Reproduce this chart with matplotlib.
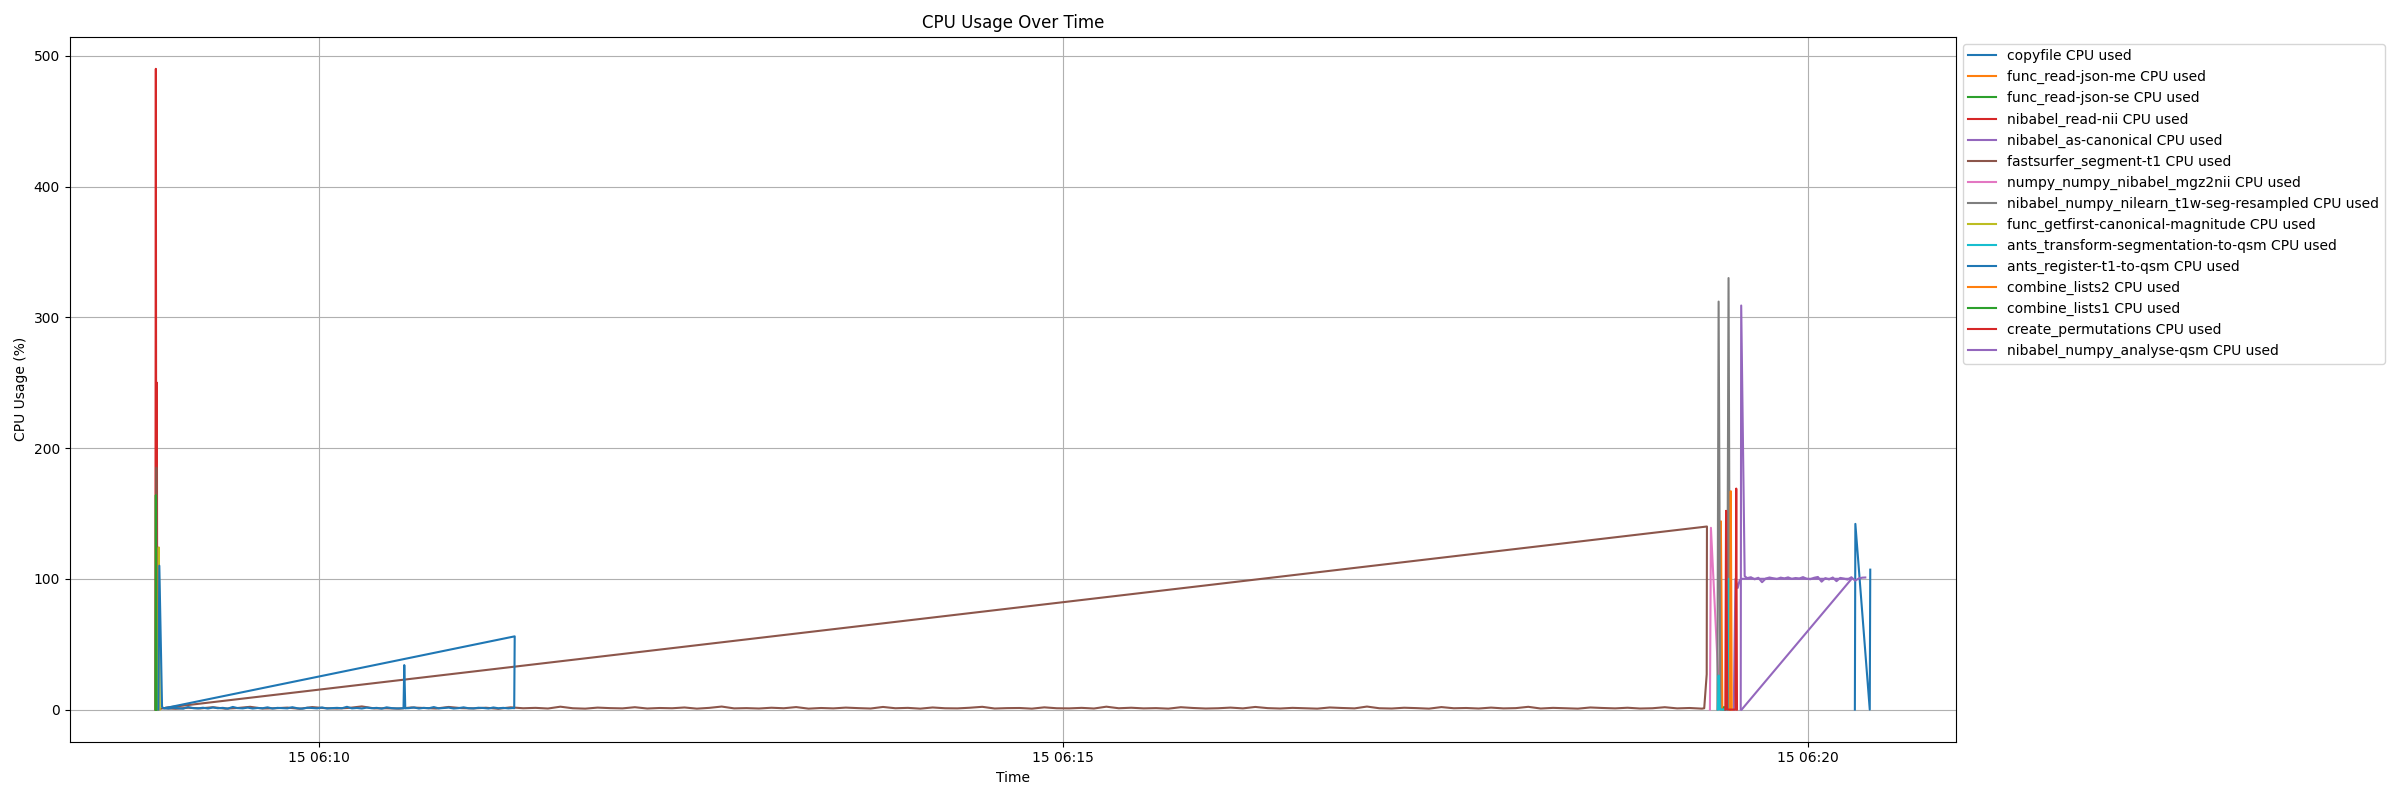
#!/usr/bin/env python
# -*- coding: utf-8 -*-

"""
CPU usage of the pipeline processes over time.
Times are seconds relative to 06:10:00, values are CPU usage in percent.
"""

import numpy as np
import pandas as pd
import matplotlib
matplotlib.use('Agg')
import matplotlib.pyplot as plt

BASE = pd.Timestamp('2024-01-15 06:10:00')

labels = ['copyfile', 'func_read-json-me', 'func_read-json-se', 'nibabel_read-nii',
          'nibabel_as-canonical', 'fastsurfer_segment-t1', 'numpy_numpy_nibabel_mgz2nii',
          'nibabel_numpy_nilearn_t1w-seg-resampled', 'func_getfirst-canonical-magnitude',
          'ants_transform-segmentation-to-qsm', 'ants_register-t1-to-qsm', 'combine_lists2',
          'combine_lists1', 'create_permutations', 'nibabel_numpy_analyse-qsm']

# short processes: (seconds, cpu)
copyfile_t = [619.0, 619.2, 625.0, 625.2]
copyfile_v = [0, 142, 0, 107]

json_me_t = [564.8, 565.0, 565.6]
json_me_v = [0, 144, 0]

json_se_t = [566.0, 566.3, 566.6]
json_se_v = [0, 2, 0]

read_nii_t = [-65.8, -65.6, -65.4, -65.2, -65.0]
read_nii_v = [0, 490, 0, 250, 0]

canonical_t = [570.2, 570.9, 571.8, 572.6, 573.6, 617.7, 573.4]
canonical_v = [0, 100, 93, 99, 100, 100, 0]

mgz2nii_t = [560.6, 561.0, 564.6]
mgz2nii_v = [0, 139, 0]

resampled_t = [563.6, 564.1, 564.8, 567.5, 568.1, 568.7]
resampled_v = [0, 312, 0, 0, 330, 0]

getfirst_t = [-64.8, -64.4, -64.0]
getfirst_v = [0, 124, 0]

transform_t = [563.8, 564.1, 564.6, 567.9, 568.2, 568.6]
transform_v = [0, 26, 0, 0, 100, 0]

lists2_t = [568.6, 569.0, 569.4]
lists2_v = [0, 167, 0]

lists1_t = [-65.8, -65.6, -65.4]
lists1_v = [0, 164, 0]

permutations_t = [566.8, 567.1, 567.6, 570.9, 571.2, 571.5]
permutations_v = [0, 152, 0, 0, 169, 0]

# fastsurfer: start spike, 5 s samples, end spike
fastsurfer_head_t = [-65.6, -65.4, -65.2]
fastsurfer_head_v = [0, 185, 0]
fastsurfer_start, fastsurfer_step = -62.6, 5.0
fastsurfer_samples = [
    1.0, 0.6, 1.4, 0.9, 1.8, 0.7, 1.2, 2.1, 0.8, 1.0, 1.5, 0.6, 1.9, 1.1, 0.8, 1.3, 2.4, 0.9, 1.0, 0.7,
    1.6, 1.2, 0.8, 2.0, 1.1, 0.9, 1.4, 0.6, 1.7, 1.0, 1.3, 0.8, 2.2, 1.0, 0.7, 1.5, 1.1, 0.9, 1.8, 0.8,
    1.2, 1.0, 1.6, 0.7, 1.3, 2.3, 0.9, 1.1, 0.8, 1.4, 1.0, 1.9, 0.7, 1.2, 0.9, 1.5, 1.1, 0.8, 2.0, 1.0,
    1.3, 0.7, 1.6, 1.0, 0.9, 1.4, 2.1, 0.8, 1.1, 1.2, 0.7, 1.7, 1.0, 0.9, 1.3, 0.8, 2.2, 1.0, 1.4, 0.9,
    1.1, 0.7, 1.8, 1.2, 0.8, 1.0, 1.5, 0.9, 2.0, 1.1, 0.8, 1.3, 1.0, 0.7, 1.6, 1.2, 0.9, 2.3, 1.0, 0.8,
    1.4, 1.1, 0.7, 1.9, 1.0, 1.2, 0.8, 1.5, 0.9, 1.1, 2.1, 0.8, 1.3, 1.0, 0.7, 1.6, 1.2, 0.9, 1.4, 0.8,
    1.0, 1.8, 0.9, 1.2, 0.7]
fastsurfer_tail_t = [558.3, 559.3, 559.4, -61.4]
fastsurfer_tail_v = [1, 27, 140, 1.5]

# ants_register: 2 s samples
register_head_t = [-64.6, -64.2, -63.1]
register_head_v = [0, 110, 2]
register_start1, register_step = -62.6, 2.0
register_samples1 = [
    1.2, 0.8, 1.5, 1.0, 0.7, 1.9, 1.1, 0.9, 1.4, 0.8, 1.6, 1.0, 1.3, 0.7, 2.0, 1.1, 0.9, 1.5, 0.8, 1.2,
    1.0, 1.7, 0.8, 1.3, 1.1, 0.9, 1.8, 1.0, 0.7, 1.4, 1.2, 0.9, 1.6, 0.8, 1.1, 1.3, 1.0, 2.1, 0.9, 1.2,
    0.8, 1.5, 1.0, 1.3, 0.7, 1.7, 1.1, 0.9]
register_mid_t = [34.2, 34.5, 34.9]
register_mid_v = [1, 34, 1]
register_start2 = 36.4
register_samples2 = [1.1, 1.6, 0.8, 1.3, 1.0, 1.9, 0.9, 1.2, 1.5, 0.8, 1.1,
                     1.7, 1.0, 0.9, 1.4, 1.2, 0.8, 1.6, 1.0, 1.3, 0.9, 1.2]
register_tail_t = [78.8, 79.0, -62.2]
register_tail_v = [1, 56, 1]

# analyse-qsm: spike then ~100 % plateau, 1.5 s samples
analyse_head_t = [573.0, 573.2, 574.6]
analyse_head_v = [0, 309, 102]
analyse_start, analyse_step = 575.6, 1.5
analyse_samples = [
    100.5, 101.2, 99.6, 100.8, 97.4, 100.2, 101.0, 100.4, 99.8, 100.9,
    100.3, 101.1, 99.9, 100.6, 100.2, 101.3, 100.0, 99.7, 100.8, 101.4,
    97.8, 100.5, 99.5, 101.0, 98.2, 100.7, 100.1, 99.4, 101.2, 98.6,
    100.3, 100.9]
analyse_tail_t = [623.2]
analyse_tail_v = [101]


def sampled(start, step, values):
    return list(start + step * np.arange(len(values)))


fastsurfer_t = fastsurfer_head_t + sampled(fastsurfer_start, fastsurfer_step, fastsurfer_samples) + fastsurfer_tail_t
fastsurfer_v = fastsurfer_head_v + fastsurfer_samples + fastsurfer_tail_v

register_t = (register_head_t + sampled(register_start1, register_step, register_samples1) + register_mid_t
              + sampled(register_start2, register_step, register_samples2) + register_tail_t)
register_v = register_head_v + register_samples1 + register_mid_v + register_samples2 + register_tail_v

analyse_t = analyse_head_t + sampled(analyse_start, analyse_step, analyse_samples) + analyse_tail_t
analyse_v = analyse_head_v + analyse_samples + analyse_tail_v

series = [(copyfile_t, copyfile_v), (json_me_t, json_me_v), (json_se_t, json_se_v),
          (read_nii_t, read_nii_v), (canonical_t, canonical_v), (fastsurfer_t, fastsurfer_v),
          (mgz2nii_t, mgz2nii_v), (resampled_t, resampled_v), (getfirst_t, getfirst_v),
          (transform_t, transform_v), (register_t, register_v), (lists2_t, lists2_v),
          (lists1_t, lists1_v), (permutations_t, permutations_v), (analyse_t, analyse_v)]

if __name__ == '__main__':

    fig = plt.figure(figsize=(24, 8), dpi=100)
    ax = fig.add_subplot(1, 1, 1)
    fig.subplots_adjust(left=0.029, right=0.815, top=0.954, bottom=0.073)

    for label, (t, v) in zip(labels, series):
        times = BASE + pd.to_timedelta(np.array(t), unit='s')
        ax.plot(times, v, label=label + ' CPU used')

    ax.set_title('CPU Usage Over Time')
    ax.set_xlabel('Time')
    ax.set_ylabel('CPU Usage (%)')
    ax.grid(True)
    ax.legend(loc='upper left', bbox_to_anchor=(1, 1))

    fig.savefig('out.png')
